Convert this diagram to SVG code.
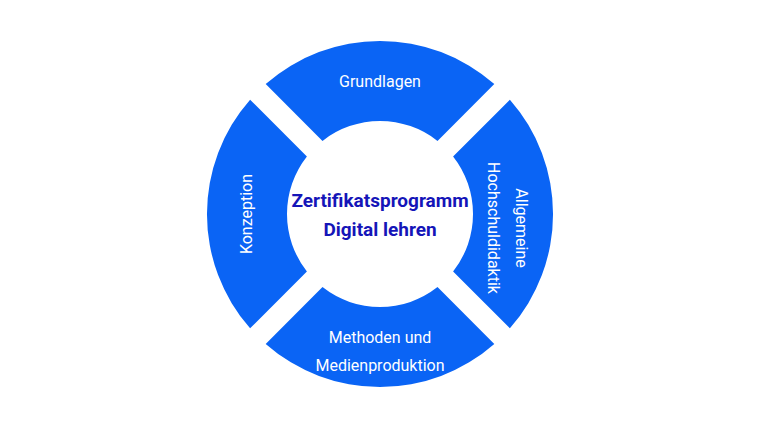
<svg xmlns="http://www.w3.org/2000/svg" width="760" height="428" viewBox="0 0 760 428">
<style>
.seg{fill:#0a64f5}
.lbl{font-family:Roboto,"Liberation Sans",sans-serif;font-size:16px;fill:#fff;text-anchor:middle}
.ctr{font-family:Roboto,"Liberation Sans",sans-serif;font-size:19px;font-weight:bold;fill:#1515b8;text-anchor:middle}
</style>
<rect width="760" height="428" fill="#fff"/>
<g id="grundlagen"><path class="seg" d="M265.7,84.1 A173 173 0 0 1 494.3,84.1 L437.5,140.9 A93 93 0 0 0 322.5,140.9 Z"/><text class="lbl" x="380" y="87">Grundlagen</text></g>
<g id="hochschuldidaktik"><path class="seg" d="M509.9,99.7 A173 173 0 0 1 509.9,328.3 L453.1,271.5 A93 93 0 0 0 453.1,156.5 Z"/><text class="lbl" transform="translate(516,228) rotate(90)">Allgemeine</text><text class="lbl" transform="translate(488,228) rotate(90)">Hochschuldidaktik</text></g>
<g id="medienproduktion"><path class="seg" d="M494.3,343.9 A173 173 0 0 1 265.7,343.9 L322.5,287.1 A93 93 0 0 0 437.5,287.1 Z"/><text class="lbl" x="380" y="343">Methoden und</text><text class="lbl" x="380" y="371">Medienproduktion</text></g>
<g id="konzeption"><path class="seg" d="M250.1,328.3 A173 173 0 0 1 250.1,99.7 L306.9,156.5 A93 93 0 0 0 306.9,271.5 Z"/><text class="lbl" transform="translate(252,214) rotate(-90)">Konzeption</text></g>
<g id="zentrum"><text class="ctr" x="380" y="207">Zertifikatsprogramm</text><text class="ctr" x="380" y="236">Digital lehren</text></g>
<g id="connectors"/>
</svg>
